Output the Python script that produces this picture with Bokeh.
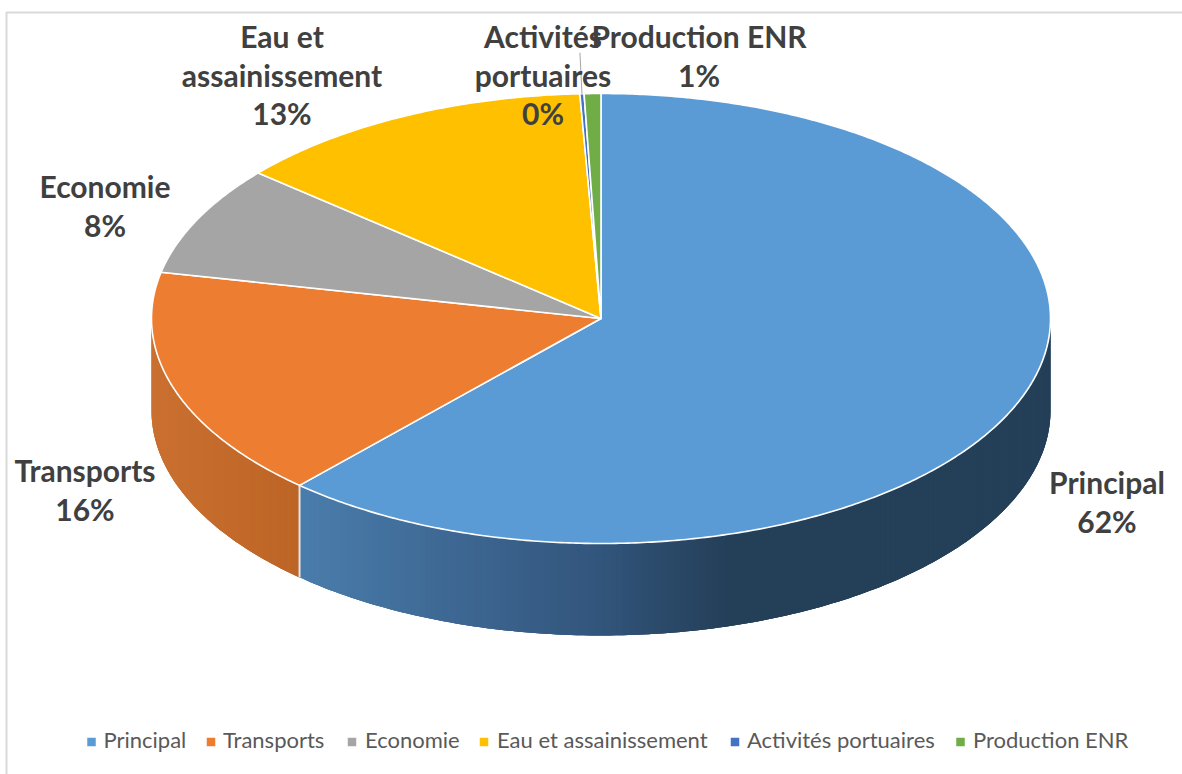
import numpy as np
from bokeh.core.properties import value
from bokeh.embed import file_html
from bokeh.models import ColumnDataSource, Range1d
from bokeh.plotting import figure
from bokeh.resources import INLINE

# ---------- data ----------
categories = ["Principal", "Transports", "Economie", "Eau et assainissement",
              "Activités portuaires", "Production ENR"]
shares = [61.7, 16.6, 7.9, 13.05, 0.15, 0.6]
percent_labels = ["62%", "16%", "8%", "13%", "0%", "1%"]
wrapped_names = [["Principal"], ["Transports"], ["Economie"], ["Eau et", "assainissement"],
                 ["Activités", "portuaires"], ["Production ENR"]]

# ---------- style / layout (page pixels) ----------
colors = ["#5B9BD5", "#ED7D31", "#A5A5A5", "#FFC000", "#4472C4", "#70AD47"]
CX, CY, RX, RY, DEPTH = 602, 319, 449.5, 225, 92
label_anchor = [(1108, 482.5), (86, 470.5), (106, 186.5), (283, 36.5), (544, 36.5), (700, 36.5)]
LINE_STEP = 38.5
legend_square_x = [92.5, 212, 353, 485, 736, 961.5]
legend_text_x = [104.5, 224, 366, 498, 748, 974]
LEGEND_Y = 740
LABEL_FONT = value("Lato")


def rim(theta):
    t = np.radians(theta)
    return CX + RX * np.sin(t), CY - RY * np.cos(t)


def mix(stops_x, stops_rgb, x):
    rgb = [int(round(np.interp(x, stops_x, [s[i] for s in stops_rgb]))) for i in range(3)]
    return "#%02x%02x%02x" % tuple(rgb)


p = figure(width=1182, height=774, output_backend="svg", toolbar_location=None,
           x_range=Range1d(1.5, 1183.5), y_range=Range1d(775, 1),
           x_axis_type=None, y_axis_type=None, min_border=0,
           outline_line_color=None, background_fill_color="white",
           border_fill_color="white")
p.grid.visible = False

# chart frame
p.line([7.5, 7.5, 1190], [780, 13, 13], line_color="#d9d9d9", line_width=2)

edges = np.concatenate([[0], np.cumsum(shares)]) / np.sum(shares) * 360

# side wall: overlapping strips painted in order, so no seams show
side_xs, side_ys, side_cols = [], [], []
blue_x = [299, 450, 600, 730, 1051]
blue_rgb = [(74, 125, 172), (62, 104, 148), (50, 85, 124), (36, 63, 88), (36, 63, 88)]
orange_x = [151, 299]
orange_rgb = [(202, 112, 48), (189, 101, 38)]
for a0, a1, sx, srgb in [(edges[1], 90, blue_x, blue_rgb), (270, edges[1], orange_x, orange_rgb)]:
    # walk left to right (decreasing angle); each strip reaches on to the wall's end
    steps = np.linspace(a0, a1, int(abs(a1 - a0) * 1.2) + 2)
    for i in range(len(steps) - 1):
        t0, t1 = steps[i], steps[min(i + 3, len(steps) - 1)]
        x0, y0 = rim(t0)
        xm, _ = rim(steps[i + 1])
        arc = np.linspace(t0, t1, 4)
        ax_, ay_ = rim(arc)
        side_xs.append(list(ax_) + list(ax_[::-1]))
        side_ys.append(list(ay_) + list(ay_[::-1] + DEPTH))
        side_cols.append(mix(sx, srgb, (x0 + xm) / 2))
p.patches(side_xs, side_ys, fill_color=side_cols, line_color=None)

# separator on the side wall
sep_x, sep_y = rim(edges[1])
p.line([sep_x, sep_x], [sep_y, sep_y + DEPTH], line_color="#e4e4e4", line_width=2)

# top face
xs, ys = [], []
for a0, a1 in zip(edges[:-1], edges[1:]):
    th = np.linspace(a0, a1, max(int(a1 - a0) * 2, 2) + 1)
    rx_, ry_ = rim(th)
    xs.append([CX] + list(rx_))
    ys.append([CY] + list(ry_))
p.patches(xs, ys, fill_color=colors, line_color="white", line_width=1.6, line_join="round")

# leader line for the tiny slice
lead_angle = (edges[4] + edges[5]) / 2
lx, ly = rim(lead_angle)
p.line([lx - 2, lx], [ly - 41, ly], line_color="#a6a6a6", line_width=1)

# data labels
tx, ty, tt = [], [], []
for (ax, ay), lines, pct in zip(label_anchor, wrapped_names, percent_labels):
    for i, s in enumerate(lines + [pct]):
        tx.append(ax)
        ty.append(ay + i * LINE_STEP)
        tt.append(s)
p.text(x="x", y="y", text="t", source=ColumnDataSource(dict(x=tx, y=ty, t=tt)),
       text_font=LABEL_FONT, text_font_style="bold", text_font_size="30px",
       text_color="#404040", text_align="center", text_baseline="middle")

# legend
p.scatter(legend_square_x, [LEGEND_Y + 2.5] * 6, marker="square", size=8.5,
          fill_color=colors, line_color=None)
p.text(x="x", y="y", text="t",
       source=ColumnDataSource(dict(x=legend_text_x, y=[LEGEND_Y] * 6, t=categories)),
       text_font=LABEL_FONT, text_font_size="22px", text_color="#595959",
       text_align="left", text_baseline="middle")

open("out.html", "w").write(file_html(p, INLINE))
